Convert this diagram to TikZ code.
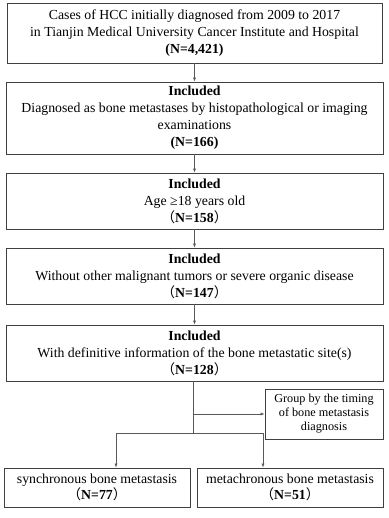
\documentclass[tikz,border=0pt]{standalone}
\usepackage{fontspec}
\setmainfont{Liberation Serif}
\newfontfamily\cjk{Noto Sans CJK SC}
\usetikzlibrary{arrows.meta,positioning}
\newcommand{\cnum}[1]{{\cjk （}\textbf{#1}{\cjk ）}}

\begin{document}
\begin{tikzpicture}[x=1pt,y=-1pt,
  box/.style={draw=black!75,line width=0.8pt,align=center,inner sep=2pt,
    font=\fontsize{13.8}{17}\selectfont},
  arr/.style={draw=black!65,line width=0.6pt,-{Latex[length=4pt,width=3pt]}}]
\useasboundingbox (0,0) rectangle (388,518);

\node[box,minimum width=375pt,minimum height=60pt] (cases) at (194.5,33)
  {Cases of HCC initially diagnosed from 2009 to 2017\\
   in Tianjin Medical University Cancer Institute and Hospital\\
   \textbf{(N=4,421)}};
\node[box,minimum width=377pt,minimum height=72pt] (bone) at (194.5,118)
  {\textbf{Included}\\
   Diagnosed as bone metastases by histopathological or imaging\\
   examinations\\
   \textbf{(N=166)}};
\node[box,minimum width=377pt,minimum height=56pt] (age) at (194.5,201)
  {\textbf{Included}\\ Age ≥18 years old\\ \cnum{N=158}};
\node[box,minimum width=377pt,minimum height=56pt] (tumor) at (194.5,276)
  {\textbf{Included}\\ Without other malignant tumors or severe organic disease\\ \cnum{N=147}};
\node[box,minimum width=377pt,minimum height=56pt] (site) at (194.5,353)
  {\textbf{Included}\\ With definitive information of the bone metastatic site(s)\\ \cnum{N=128}};
\node[box,minimum width=118pt,minimum height=50pt,
  font=\fontsize{12.2}{14}\selectfont] (group) at (324,414)
  {Group by the timing\\ of bone metastasis\\ diagnosis};
\node[box,minimum width=186pt,minimum height=39pt,
  font=\fontsize{13.8}{16}\selectfont] (sync) at (97,487.5)
  {synchronous bone metastasis\\ \cnum{N=77}};
\node[box,minimum width=186pt,minimum height=39pt,
  font=\fontsize{13.8}{16}\selectfont] (meta) at (290,487.5)
  {metachronous bone metastasis\\ \cnum{N=51}};

\draw[arr] (cases) -- (bone);
\draw[arr] (bone) -- (age);
\draw[arr] (age) -- (tumor);
\draw[arr] (tumor) -- (site);

% split below the last inclusion step
\coordinate (split) at (193,433);
\coordinate (branch) at (split |- group.west);
\coordinate (left) at (116,433);
\coordinate (right) at (263,433);
\draw[draw=black!65,line width=0.6pt] (site.south -| split) -- (split);
\draw[arr] (branch) -- (group.west);
\draw[draw=black!65,line width=0.6pt] (left) -- (right);
\draw[arr] (left) -- (left |- sync.north);
\draw[arr] (right) -- (right |- meta.north);
\end{tikzpicture}
\end{document}
